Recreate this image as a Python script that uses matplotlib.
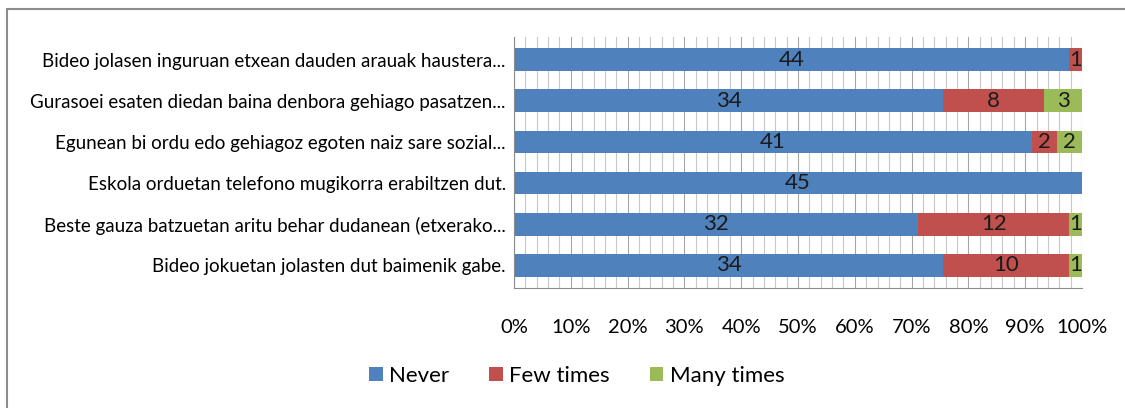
import numpy as np
import matplotlib
matplotlib.use("Agg")
from matplotlib import pyplot as plt
from matplotlib.patches import Rectangle

categories = [
    "Bideo jolasen inguruan etxean dauden arauak haustera...",
    "Gurasoei esaten diedan baina denbora gehiago pasatzen...",
    "Egunean bi ordu edo gehiagoz egoten naiz sare sozial...",
    "Eskola orduetan telefono mugikorra erabiltzen dut.",
    "Beste gauza batzuetan aritu behar dudanean (etxerako...",
    "Bideo jokuetan jolasten dut baimenik gabe.",
]
never = [44, 34, 41, 45, 32, 34]
few = [1, 8, 2, 0, 12, 10]
many = [0, 3, 2, 0, 1, 1]
series = ["Never", "Few times", "Many times"]
colors = ["#4F81BD", "#C0504D", "#9BBB59"]
xticks = [0, 10, 20, 30, 40, 50, 60, 70, 80, 90, 100]

plt.rcParams['font.family'] = ['Lato', 'DejaVu Sans']

fig = plt.figure(figsize=(11.25, 4.08), dpi=100)
fig.patches.append(Rectangle((0.006, -0.05), 1.2, 1.027, transform=fig.transFigure,
                             fill=False, edgecolor="#8c8c8c", linewidth=1.5))
ax = fig.add_axes([514 / 1125, 1 - 288 / 408, 568 / 1125, 251 / 408])

data = np.array([never, few, many], dtype=float)
totals = data.sum(axis=0)
pct = data / totals * 100
y = np.arange(len(categories))

# grid lines every 2%
for g in range(0, 101, 2):
    ax.axvline(g, color="#a6a6a6" if g % 10 == 0 else "#c8c8c8", linewidth=0.8, zorder=0)

left = np.zeros(len(categories))
for i in range(3):
    ax.barh(y, pct[i], left=left, height=0.55, color=colors[i], label=series[i], zorder=2)
    for j in range(len(categories)):
        if data[i][j] > 0:
            ax.text(left[j] + pct[i][j] / 2, y[j], str(int(data[i][j])), ha="center", va="center",
                    fontsize=16, color="#1a1a1a", zorder=3)
    left += pct[i]

ax.set_xlim(0, 100)
ax.set_ylim(len(categories) - 0.45, -0.55)
ax.set_yticks(y)
ax.set_yticklabels(categories, fontsize=13.5)
ax.set_xticks(xticks)
ax.set_xticklabels([f"{t}%" for t in xticks], fontsize=14.5)
ax.tick_params(axis="y", length=0, pad=6)
ax.tick_params(axis="x", length=0, pad=22)
for s in ["top", "right"]:
    ax.spines[s].set_visible(False)
for s in ["left", "bottom"]:
    ax.spines[s].set_color("#8c8c8c")

leg = fig.legend(loc="center", bbox_to_anchor=(577 / 1125, 1 - 376 / 408), ncol=3, frameon=False,
                 fontsize=16, handlelength=0.6, handleheight=0.6, handletextpad=0.3, columnspacing=1.8)

fig.savefig("out.png", dpi=100)
